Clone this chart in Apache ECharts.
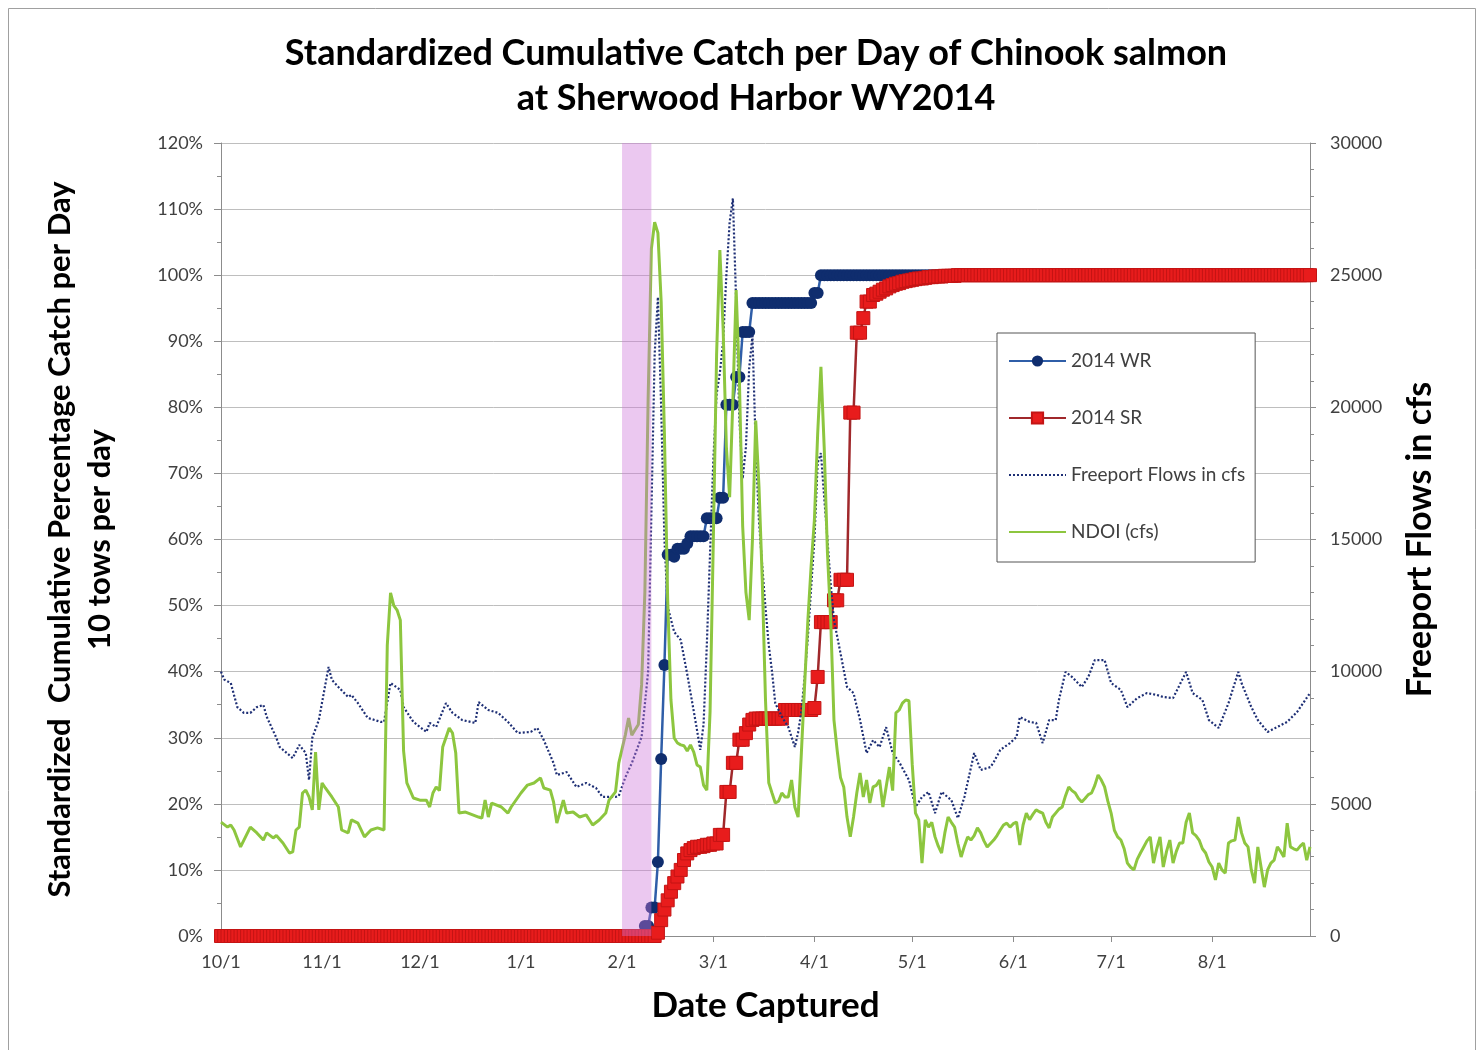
<!DOCTYPE html>
<html>
<head>
<meta charset="utf-8">
<script src="https://cdn.jsdelivr.net/npm/echarts@6/dist/echarts.min.js"></script>
<style>
html,body{margin:0;padding:0;background:#fff;}
#chart{width:1482px;height:1050px;}
</style>
</head>
<body>
<div id="chart"></div>
<script>
// ---- Categories: every day from 10/1/2013 to 8/31/2014 ----
const START_DATE = [2013, 9, 1];
const DAY_COUNT = 335;
const categories = [];
for (let i = 0; i < DAY_COUNT; i++) {
  const d = new Date(START_DATE[0], START_DATE[1], START_DATE[2] + i);
  categories.push((d.getMonth() + 1) + '/' + d.getDate());
}

// ---- Left axis tick labels (%) / right axis (cfs) ----
const leftTicks = [0, 10, 20, 30, 40, 50, 60, 70, 80, 90, 100, 110, 120];
const rightTicks = [0, 5000, 10000, 15000, 20000, 25000, 30000];

// ---- 2014 WR: cumulative % per day (index = day from 10/1) ----
const wr2014 = [
  0,0,0,0,0,0,0,0,0,0, 0,0,0,0,0,0,0,0,0,0, 0,0,0,0,0,0,0,0,0,0, 0,0,0,0,0,0,0,0,0,0,
  0,0,0,0,0,0,0,0,0,0, 0,0,0,0,0,0,0,0,0,0, 0,0,0,0,0,0,0,0,0,0, 0,0,0,0,0,0,0,0,0,0,
  0,0,0,0,0,0,0,0,0,0, 0,0,0,0,0,0,0,0,0,0, 0,0,0,0,0,0,0,0,0,0, 0,0,0,0,0,0,0,0,0,0,
  0,0,0,0,0,0,0,0,0,0,
  1.5,1.5,4.3,4.3,11.2,26.8,41.0,57.7,57.7,57.4,
  58.6,58.6,58.6,59.4,60.5,60.5,60.5,60.5,60.5,63.2,
  63.2,63.2,63.2,66.3,66.3,80.4,80.4,80.4,84.6,84.6,
  91.4,91.4,91.4,
  95.8,95.8,95.8,95.8,95.8,95.8,95.8,95.8,95.8,95.8,95.8,95.8,95.8,95.8,95.8,95.8,95.8,95.8,95.8,
  97.3,97.3,
  100,100,100,100,100,100,100,100,100,100, 100,100,100,100,100,100,100,100,100,100,
  100,100,100,100,100,100,100,100,100,100, 100,100,100,100,100,100,100,100,100,100,
  100,100,100,100,100,100,100,100,100,100, 100,100,100,100,100,100,100,100,100,100,
  100,100,100,100,100,100,100,100,100,100, 100,100,100,100,100,100,100,100,100,100,
  100,100,100,100,100,100,100,100,100,100, 100,100,100,100,100,100,100,100,100,100,
  100,100,100,100,100,100,100,100,100,100, 100,100,100,100,100,100,100,100,100,100,
  100,100,100,100,100,100,100,100,100,100, 100,100,100,100,100,100,100,100,100,100,
  100,100,100,100,100,100,100,100,100,100, 100
];

// ---- 2014 SR: cumulative % per day ----
const sr2014 = [
  0,0,0,0,0,0,0,0,0,0, 0,0,0,0,0,0,0,0,0,0, 0,0,0,0,0,0,0,0,0,0, 0,0,0,0,0,0,0,0,0,0,
  0,0,0,0,0,0,0,0,0,0, 0,0,0,0,0,0,0,0,0,0, 0,0,0,0,0,0,0,0,0,0, 0,0,0,0,0,0,0,0,0,0,
  0,0,0,0,0,0,0,0,0,0, 0,0,0,0,0,0,0,0,0,0, 0,0,0,0,0,0,0,0,0,0, 0,0,0,0,0,0,0,0,0,0,
  0,0,0,0,0,0,0,0,0,0, 0,0,0,0,
  0.5,2.4,4.0,5.4,6.7,8.0,9.0,10.0,11.5,12.5,
  13.0,13.3,13.5,13.5,13.6,13.8,13.8,14.0,14.0,15.3,
  15.3,21.8,21.8,26.2,26.2,29.7,29.7,30.7,32.0,32.7,
  32.9,32.9,32.9,32.9,32.9,32.9,32.9,32.9,32.9,
  34.2,34.2,34.2,34.2,34.2,34.2,34.2,34.2,34.2,
  34.5,39.2,47.5,47.5,47.5,47.5,50.8,50.8,53.9,53.9,53.9,
  79.2,79.2,91.3,91.3,93.5,96.0,96.0,
  97.0,97.2,97.5,97.8,98.0,98.3,98.5,98.7,98.8,99.0,
  99.1,99.2,99.3,99.4,99.5,99.5,99.6,99.7,99.7,99.8,
  99.8,99.8,99.9,99.9,99.9,99.9,
  100,100,100,100,100,100,100,100,100,100, 100,100,100,100,100,100,100,100,100,100,
  100,100,100,100,100,100,100,100,100,100, 100,100,100,100,100,100,100,100,100,100,
  100,100,100,100,100,100,100,100,100,100, 100,100,100,100,100,100,100,100,100,100,
  100,100,100,100,100,100,100,100,100,100, 100,100,100,100,100,100,100,100,100,100,
  100,100,100,100,100,100,100,100,100,100, 100,100,100,100,100,100,100,100,100,100,
  100,100,100,100,100,100,100,100,100
];

// ---- Freeport Flows (cfs): [day index from 10/1, cfs] ----
const freeportFlows = [
  [0,10000],[1,9700],[3,9570],[5,8660],[7,8440],[9,8440],[11,8660],[13,8740],[14,8300],[17,7490],
  [18,7150],[22,6730],[24,7230],[26,6920],[27,5900],[28,7500],[30,8170],[33,10180],[34,9690],[36,9420],
  [39,9040],[40,9120],[42,8810],[45,8250],[49,8100],[50,8100],[52,9570],[55,9310],[56,8660],[59,8100],
  [63,7720],[64,8060],[66,7910],[69,8810],[71,8440],[74,8170],[78,8060],[79,8850],[82,8550],[85,8440],
  [88,8100],[91,7680],[95,7720],[97,7870],[99,7410],[102,6540],[103,6090],[106,6200],[109,5640],[112,5790],
  [115,5600],[117,5260],[121,5260],[122,5300],[124,6000],[126,6540],[129,7530],[131,10000],[132,16000],[133,22000],
  [134,24170],[135,20000],[136,15000],[137,12450],[139,11500],[141,11200],[143,9900],[145,8500],[146,7790],[147,7040],
  [148,8000],[149,11000],[150,14500],[151,18000],[152,20500],[153,21300],[154,22500],[155,25000],[156,27000],[157,27900],
  [158,24000],[159,19500],[160,17300],[161,18500],[162,21500],[163,22700],[164,18500],[165,15700],[166,14000],[167,12400],
  [168,11000],[169,10000],[170,8800],[172,8300],[174,7900],[176,7150],[177,7700],[178,8500],[179,9800],[180,11300],
  [181,13200],[182,15000],[183,17900],[184,18270],[185,16600],[186,15000],[187,13300],[188,11950],[190,10700],[192,9420],
  [194,9190],[196,8170],[198,6920],[200,7410],[202,7150],[204,7900],[206,6920],[208,6580],[211,5900],[213,4880],
  [215,5260],[217,5450],[219,4650],[221,5450],[224,5140],[226,4460],[228,5260],[231,6920],[233,6280],[236,6390],
  [237,6580],[239,7040],[242,7300],[244,7530],[245,8280],[248,8100],[250,8060],[252,7300],[254,8170],[256,8170],
  [257,8930],[259,9990],[261,9800],[264,9420],[266,9800],[268,10440],[271,10440],[273,9570],[276,9310],[278,8660],
  [281,9000],[284,9190],[287,9120],[289,9040],[292,9000],[296,9990],[298,9190],[301,8930],[303,8170],[306,7870],
  [309,8810],[312,9990],[313,9570],[316,8660],[318,8170],[321,7720],[324,7910],[327,8100],[330,8470],[334,9190]
];

// ---- NDOI (cfs): [day index from 10/1, cfs] ----
const ndoi = [
  [0,4310],[2,4120],[3,4200],[4,4010],[6,3370],[9,4120],[11,3900],[13,3630],[14,3900],[16,3710],
  [17,3800],[19,3520],[21,3140],[22,3180],[23,4010],[24,4120],[25,5410],[26,5520],[27,5260],[28,4770],
  [29,6960],[30,4770],[31,5790],[32,5600],[34,5260],[36,4880],[37,4010],[39,3900],[40,4390],[42,4270],
  [44,3750],[46,4010],[48,4090],[50,4010],[51,11000],[52,12980],[53,12500],[54,12330],[55,11950],[56,7000],
  [57,5790],[59,5220],[61,5140],[63,5140],[64,4880],[65,5410],[66,5640],[67,5500],[68,7150],[70,7870],
  [71,7680],[72,6920],[73,4650],[75,4690],[79,4500],[80,4460],[81,5140],[82,4500],[83,5030],[86,4880],
  [88,4650],[89,4880],[92,5410],[94,5710],[96,5790],[98,5980],[99,5600],[101,5520],[102,5070],[103,4270],
  [105,5140],[106,4650],[108,4690],[110,4500],[112,4580],[114,4200],[116,4390],[118,4650],[119,5140],[121,5450],
  [122,6540],[124,7600],[125,8250],[126,7600],[127,7800],[128,8000],[129,9500],[130,13000],[131,20300],[132,26000],
  [133,27000],[134,26600],[135,24000],[136,19000],[137,12700],[138,8930],[139,7490],[140,7300],[141,7230],[142,7200],
  [143,7000],[144,7230],[145,6960],[146,6470],[147,6390],[148,5710],[149,5520],[150,8500],[151,15000],[152,22000],
  [153,25950],[154,23000],[155,18500],[156,16600],[157,20300],[158,24440],[159,21000],[160,15500],[161,13000],[162,11950],
  [163,15000],[164,19500],[165,17000],[166,13500],[167,8930],[168,5800],[169,5410],[170,5030],[171,5100],[172,5410],
  [173,5260],[174,5260],[175,5900],[176,4880],[177,4500],[178,6920],[179,9500],[180,11950],[181,14000],[182,15740],
  [183,19000],[184,21530],[185,18500],[186,14500],[187,11950],[188,8170],[189,7000],[190,6000],[191,5640],[192,4500],
  [193,3750],[194,4500],[195,5410],[196,6170],[197,5260],[198,5900],[199,5030],[200,5640],[201,5700],[202,5900],
  [203,4880],[204,5640],[205,6390],[206,5500],[207,8440],[208,8550],[209,8810],[210,8930],[211,8900],[212,6500],
  [213,4650],[214,4390],[215,2760],[216,4390],[217,4120],[218,4300],[219,3750],[220,3400],[221,3140],[222,3900],
  [223,4500],[224,4300],[225,4120],[226,3500],[227,2990],[228,3400],[229,3750],[230,3630],[231,3800],[232,4090],
  [233,3900],[234,3600],[235,3370],[236,3500],[237,3630],[238,3800],[239,4010],[240,4200],[241,4270],[242,4120],
  [243,4250],[244,4310],[245,3440],[246,4200],[247,4650],[248,4400],[249,4600],[250,4770],[251,4700],[252,4650],
  [253,4300],[254,4090],[255,4500],[256,4650],[257,4800],[258,4880],[259,5300],[260,5640],[261,5500],[262,5410],
  [263,5200],[264,5070],[265,5200],[266,5350],[267,5410],[268,5700],[269,6090],[270,5900],[271,5640],[272,5100],
  [273,4650],[274,4000],[275,3750],[276,3630],[277,3300],[278,2760],[279,2600],[280,2500],[281,2900],[282,3140],
  [283,3370],[284,3600],[285,3750],[286,2760],[287,3300],[288,3750],[289,2610],[290,3200],[291,3630],[292,2760],
  [293,3200],[294,3520],[295,3520],[296,4300],[297,4650],[298,3900],[299,3800],[300,3630],[301,3300],[302,3140],
  [303,2800],[304,2610],[305,2120],[306,2760],[307,2500],[308,2380],[309,3520],[310,3600],[311,3630],[312,4500],
  [313,3900],[314,3520],[315,3370],[316,2500],[317,2000],[318,3370],[319,2600],[320,1850],[321,2500],[322,2760],
  [323,2870],[324,3370],[325,3200],[326,2990],[327,4270],[328,3370],[329,3300],[330,3250],[331,3400],[332,3520],
  [333,2870],[334,3370]
];

// ---- Highlighted period (day index from 10/1) ----
const highlightBand = [122.7, 131.6];

const FONT = 'Lato, "Open Sans", sans-serif';
const isMonthStart = (idx, val) => String(val).split('/')[1] === '1';

const chart = echarts.init(document.getElementById('chart'), null, {renderer: 'canvas'});
chart.setOption({
  animation: false,
  backgroundColor: '#fff',
  textStyle: {fontFamily: FONT},
  title: {
    text: 'Standardized Cumulative Catch per Day of Chinook salmon\nat Sherwood Harbor WY2014',
    left: 751, top: 26, textAlign: 'center',
    textStyle: {fontFamily: FONT, fontSize: 36, fontWeight: 'bold', color: '#000', lineHeight: 45}
  },
  graphic: [{
    type: 'rect', silent: true, z: -1,
    shape: {x: 8.5, y: 8.5, width: 1467, height: 1060},
    style: {fill: 'none', stroke: '#A0A0A0', lineWidth: 1}
  }],
  legend: {
    orient: 'vertical', left: 997, top: 333,
    padding: [18, 10, 20, 11], itemGap: 37, itemWidth: 57, itemHeight: 14,
    backgroundColor: '#fff', borderColor: '#555', borderWidth: 1,
    textStyle: {fontFamily: FONT, fontSize: 19, color: '#404040', lineHeight: 20},
    data: [
      {name: '2014 WR'},
      {name: '2014 SR'},
      {name: 'Freeport Flows in cfs', itemStyle: {color: 'rgba(0,0,0,0)', borderWidth: 0}},
      {name: 'NDOI (cfs)', itemStyle: {color: 'rgba(0,0,0,0)', borderWidth: 0}}
    ]
  },
  grid: {left: 221, right: 172, top: 143, bottom: 114, containLabel: false},
  xAxis: {
    type: 'category', data: categories, boundaryGap: false,
    name: 'Date Captured', nameLocation: 'middle', nameGap: 50,
    nameTextStyle: {fontFamily: FONT, fontSize: 35, fontWeight: 'bold', color: '#000', lineHeight: 40},
    axisLine: {lineStyle: {color: '#8C8C8C', width: 1}},
    axisTick: {interval: isMonthStart, length: 6, lineStyle: {color: '#8C8C8C'}},
    axisLabel: {interval: isMonthStart, margin: 17, fontSize: 18, color: '#404040', fontFamily: FONT},
    splitLine: {show: false}
  },
  yAxis: [{
    type: 'value', min: 0, max: 120, interval: 10, position: 'left',
    name: 'Standardized  Cumulative Percentage Catch per Day\n10 tows per day',
    nameLocation: 'middle', nameRotate: 90, nameGap: 101,
    nameTextStyle: {fontFamily: FONT, fontSize: 31, fontWeight: 'bold', color: '#000', lineHeight: 40},
    axisLine: {show: true, lineStyle: {color: '#8C8C8C'}},
    axisTick: {show: true, length: 7, lineStyle: {color: '#8C8C8C'}},
    minorTick: {show: true, splitNumber: 2, length: 4, lineStyle: {color: '#8C8C8C'}},
    axisLabel: {formatter: v => leftTicks.includes(v) ? v + '%' : '', margin: 18, fontSize: 18, color: '#404040', fontFamily: FONT},
    splitLine: {show: true, lineStyle: {color: '#BEBEBE', width: 1}}
  }, {
    type: 'value', min: 0, max: 30000, interval: 5000, position: 'right',
    name: 'Freeport Flows in cfs',
    nameLocation: 'middle', nameRotate: 90, nameGap: 92,
    nameTextStyle: {fontFamily: FONT, fontSize: 34, fontWeight: 'bold', color: '#000', lineHeight: 36},
    axisLine: {show: true, lineStyle: {color: '#8C8C8C'}},
    axisTick: {show: true, length: 6, lineStyle: {color: '#8C8C8C'}},
    minorTick: {show: true, splitNumber: 5, length: 4, lineStyle: {color: '#8C8C8C'}},
    axisLabel: {formatter: v => rightTicks.includes(v) ? String(v) : '', margin: 20, fontSize: 18, color: '#404040', fontFamily: FONT},
    splitLine: {show: false}
  }],
  series: [{
    name: '2014 WR', type: 'line', yAxisIndex: 0, data: wr2014,
    symbol: 'circle', symbolSize: 12, showAllSymbol: true, z: 3,
    lineStyle: {color: '#2F5EA8', width: 2.5},
    itemStyle: {color: '#0F2D6E'}
  }, {
    name: '2014 SR', type: 'line', yAxisIndex: 0, data: sr2014,
    symbol: 'rect', symbolSize: 13, showAllSymbol: true, z: 4,
    lineStyle: {color: '#A0282B', width: 2.5},
    itemStyle: {color: '#E81C1C', borderColor: '#C41414', borderWidth: 1}
  }, {
    name: 'Freeport Flows in cfs', type: 'line', yAxisIndex: 1, data: freeportFlows,
    symbol: 'none', z: 5,
    lineStyle: {color: '#1E2F75', width: 2.2, type: [2, 2]},
    itemStyle: {color: '#1E2F75'}
  }, {
    name: 'NDOI (cfs)', type: 'line', yAxisIndex: 1, data: ndoi,
    symbol: 'none', z: 6,
    lineStyle: {color: '#8DC63F', width: 3},
    itemStyle: {color: '#8DC63F'},
    markArea: {
      silent: true, z: 10,
      itemStyle: {color: 'rgba(205,117,217,0.4)'},
      data: [[{xAxis: highlightBand[0]}, {xAxis: highlightBand[1]}]]
    }
  }]
});
</script>
</body>
</html>
